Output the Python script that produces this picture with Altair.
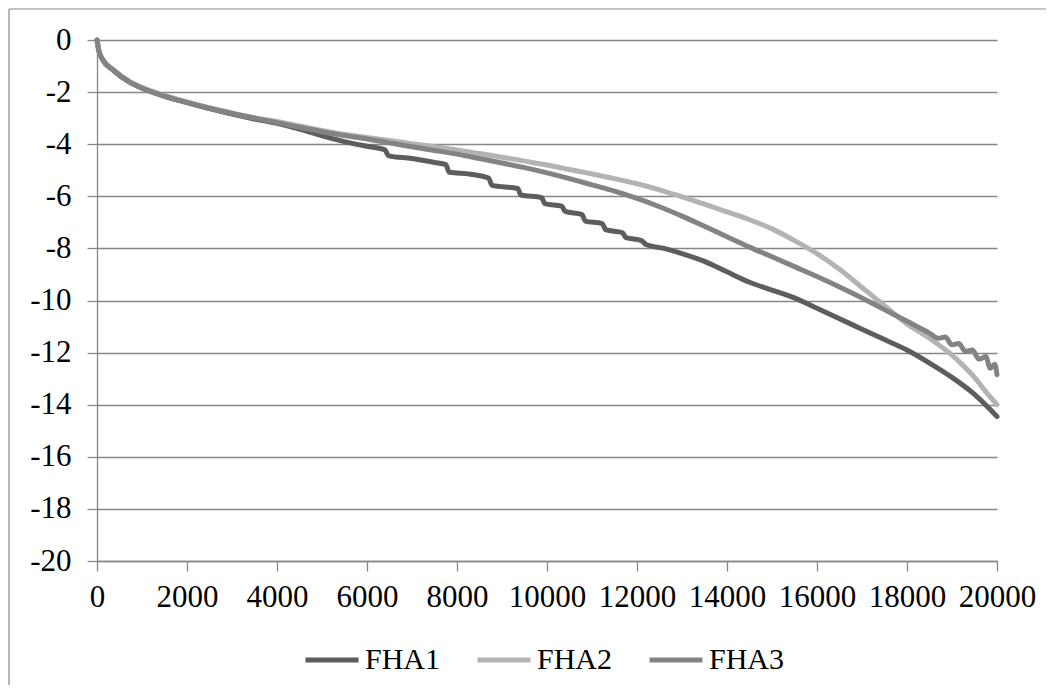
import altair as alt
import pandas as pd

series_names = ["FHA1", "FHA2", "FHA3"]
series_colors = ["#5d5d5d", "#b3b3b3", "#838383"]

x_ticks = [0, 2000, 4000, 6000, 8000, 10000, 12000, 14000, 16000, 18000, 20000]
y_ticks = [0, -2, -4, -6, -8, -10, -12, -14, -16, -18, -20]

fha1_x = [0, 40, 130, 350, 730, 1000, 1500, 2000, 2500, 3000, 3500, 4000, 4500, 5000,
          5500, 6000, 6400, 6480, 7000, 7500, 7750, 7830, 8300, 8700, 8780, 9350, 9420,
          9880, 9950, 10330, 10400, 10780, 10850, 11230, 11300, 11680, 11750, 12100, 12200,
          12600, 13000, 13500, 14000, 14500, 15000, 15500, 16000, 16500, 17000, 17500,
          18000, 18500, 19000, 19500, 20000]
fha1_y = [0, -0.4, -0.77, -1.15, -1.63, -1.85, -2.16, -2.4, -2.63, -2.84, -3.03, -3.2, -3.42, -3.68,
          -3.9, -4.08, -4.22, -4.45, -4.55, -4.7, -4.78, -5.08, -5.15, -5.3, -5.58, -5.7, -5.95,
          -6.05, -6.28, -6.38, -6.58, -6.7, -6.95, -7.05, -7.28, -7.4, -7.58, -7.7, -7.85,
          -8.0, -8.2, -8.5, -8.9, -9.3, -9.6, -9.9, -10.3, -10.7, -11.1, -11.5,
          -11.9, -12.4, -12.95, -13.6, -14.45]

fha2_x = [0, 40, 130, 350, 730, 1000, 1500, 2000, 2500, 3000, 3500, 4000, 4500, 5000,
          5500, 6000, 6500, 7000, 7500, 8000, 8500, 9000, 9500, 10000, 10500, 11000, 11500,
          12000, 12500, 13000, 13500, 14000, 14500, 15000, 15500, 16000, 16500, 17000, 17500,
          18000, 18500, 19000, 19250, 19500, 19750, 20000]
fha2_y = [0, -0.4, -0.75, -1.12, -1.6, -1.82, -2.13, -2.38, -2.6, -2.8, -2.98, -3.13, -3.3, -3.47,
          -3.62, -3.74, -3.86, -3.98, -4.1, -4.22, -4.36, -4.5, -4.65, -4.8, -4.97, -5.14, -5.32,
          -5.52, -5.75, -6.02, -6.3, -6.6, -6.9, -7.25, -7.7, -8.2, -8.8, -9.5, -10.2,
          -10.9, -11.45, -12.1, -12.5, -12.95, -13.5, -14.0]

fha3_x = [0, 40, 130, 350, 730, 1000, 1500, 2000, 2500, 3000, 3500, 4000, 4500, 5000,
          5500, 6000, 6500, 7000, 7500, 8000, 8500, 9000, 9500, 10000, 10500, 11000, 11500,
          12000, 12500, 13000, 13500, 14000, 14500, 15000, 15500, 16000, 16500, 17000, 17500,
          18000, 18500, 18700, 18850, 19000, 19150, 19300, 19450, 19600, 19750, 19850, 19950, 20000]
fha3_y = [0, -0.4, -0.76, -1.14, -1.62, -1.84, -2.15, -2.4, -2.62, -2.82, -3.0, -3.17, -3.35, -3.52,
          -3.67, -3.8, -3.95, -4.1, -4.24, -4.38, -4.55, -4.72, -4.9, -5.1, -5.32, -5.56, -5.8,
          -6.08, -6.4, -6.76, -7.15, -7.55, -7.95, -8.32, -8.7, -9.08, -9.48, -9.9, -10.35,
          -10.8, -11.25, -11.45, -11.4, -11.7, -11.65, -11.95, -11.9, -12.25, -12.15, -12.6, -12.45, -12.85]

rows = []
for name, xs, ys in [("FHA1", fha1_x, fha1_y), ("FHA2", fha2_x, fha2_y), ("FHA3", fha3_x, fha3_y)]:
    for xv, yv in zip(xs, ys):
        rows.append({"series": name, "x": xv, "y": yv})
df = pd.DataFrame(rows)

grid_color = "#878787"
font = "Liberation Serif"

lines = alt.Chart(df).mark_line(
    strokeWidth=5, interpolate="monotone", strokeCap="round", strokeJoin="round"
).encode(
    x=alt.X("x:Q",
            scale=alt.Scale(domain=[0, 20000], nice=False, zero=False),
            axis=alt.Axis(values=x_ticks, labelExpr="datum.value + ''", title=None, grid=False,
                          domainColor=grid_color, domainWidth=1.3,
                          tickColor=grid_color, tickWidth=1.3, tickSize=10,
                          labelFont=font, labelFontSize=31, labelColor="black",
                          labelPadding=11, labelFlush=False, labelOverlap=False)),
    y=alt.Y("y:Q",
            scale=alt.Scale(domain=[-20, 0], nice=False, zero=False),
            axis=alt.Axis(values=y_ticks, labelExpr="datum.value + ''", title=None, grid=True,
                          gridColor=grid_color, gridWidth=1.3,
                          domainColor=grid_color, domainWidth=1.3,
                          tickColor=grid_color, tickWidth=1.3, tickSize=10,
                          labelFont=font, labelFontSize=31, labelColor="black",
                          labelPadding=16, labelFlush=False, labelOverlap=False)),
    color=alt.Color("series:N",
                    scale=alt.Scale(domain=series_names, range=series_colors),
                    legend=alt.Legend(orient="none", legendX=206, legendY=591,
                                      direction="horizontal", title=None,
                                      symbolType="stroke", symbolSize=2809,
                                      symbolStrokeWidth=5,
                                      labelFont=font, labelFontSize=30, labelColor="black",
                                      labelOffset=4, columnPadding=26)),
)

frame_data = pd.DataFrame({"k": [0]})
frame_left = alt.Chart(frame_data).mark_rule(color="#888888", strokeWidth=1.2).encode(
    x=alt.value(-88), y=alt.value(-31), y2=alt.value(700)
)
frame_top = alt.Chart(frame_data).mark_rule(color="#888888", strokeWidth=1.2).encode(
    x=alt.value(-88), x2=alt.value(1000), y=alt.value(-31)
)

chart = alt.layer(lines, frame_left, frame_top).properties(
    width=900, height=521,
    autosize=alt.AutoSizeParams(type="none"),
    padding={"left": 89, "top": 32, "right": 49, "bottom": 124},
    background="white",
).configure_view(stroke=None)

chart.save("out.html", embed_options={"renderer": "svg", "actions": False})
